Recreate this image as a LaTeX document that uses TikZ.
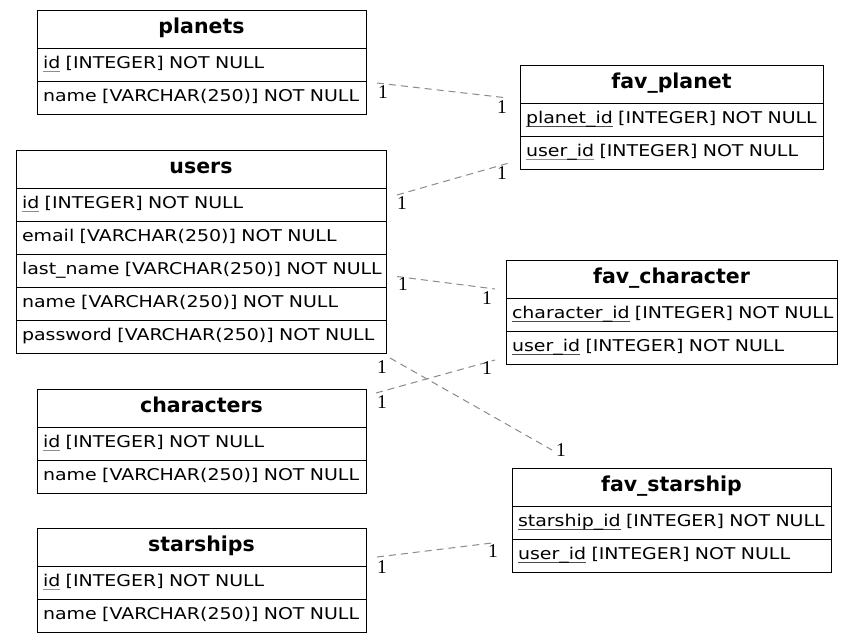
\documentclass[tikz,border=0pt]{standalone}
\usepackage{fontspec}
\setmainfont{DejaVu Sans}
\newfontfamily\rowfont[FakeStretch=1.17]{DejaVu Sans}
\newfontfamily\cardfont{Liberation Serif}
\usetikzlibrary{positioning}
\definecolor{keygray}{HTML}{8C8C8C}
\definecolor{keydark}{HTML}{4A4A4A}
\definecolor{relgray}{HTML}{8A8A8A}
\newcommand\keyname[2]{\setbox0\hbox{#2}\rlap{\color{#1}\rule[-3.2pt]{\wd0}{1.1pt}}\box0\relax}
\tikzset{
  tblhead/.style={draw,line width=1pt,outer sep=0pt,minimum width=#1,minimum height=38pt,inner sep=0pt,anchor=north west,
    font=\fontsize{20.5}{24}\selectfont\bfseries,text height=14pt,text depth=5pt},
  tblrow/.style={draw,line width=1pt,outer sep=0pt,text width=#1,minimum height=33pt,inner xsep=6pt,inner ysep=0pt,anchor=north west,
    align=left,font=\rowfont\fontsize{16.2}{19}\selectfont,text height=12pt,text depth=3.5pt,
    execute at begin node={\hbox\bgroup},execute at end node={\egroup}},
  rel/.style={draw=relgray,line width=1pt,dash pattern=on 7pt off 5pt},
  card/.style={font=\cardfont\fontsize{19.5}{22}\selectfont,inner sep=0pt}
}
\begin{document}
\begin{tikzpicture}[x=1pt,y=-1pt]
  \fill[white] (0,0) rectangle (853,643);
  % left column
  \node[tblhead=329pt] (planets) at (37,10) {planets};
  \node[tblrow=317pt,below right=0pt and 0pt of planets.south west] (planets-id) {\keyname{keygray}{id} [INTEGER] NOT NULL};
  \node[tblrow=317pt,below right=0pt and 0pt of planets-id.south west] (planets-name) {name [VARCHAR(250)] NOT NULL};

  \node[tblhead=370pt] (users) at (16,150) {users};
  \node[tblrow=358pt,below right=0pt and 0pt of users.south west] (users-id) {\keyname{keygray}{id} [INTEGER] NOT NULL};
  \node[tblrow=358pt,below right=0pt and 0pt of users-id.south west] (users-email) {email [VARCHAR(250)] NOT NULL};
  \node[tblrow=358pt,below right=0pt and 0pt of users-email.south west] (users-last) {last\_name [VARCHAR(250)] NOT NULL};
  \node[tblrow=358pt,below right=0pt and 0pt of users-last.south west] (users-name) {name [VARCHAR(250)] NOT NULL};
  \node[tblrow=358pt,below right=0pt and 0pt of users-name.south west] (users-pw) {password [VARCHAR(250)] NOT NULL};

  \node[tblhead=329pt] (characters) at (37,389) {characters};
  \node[tblrow=317pt,below right=0pt and 0pt of characters.south west] (characters-id) {\keyname{keygray}{id} [INTEGER] NOT NULL};
  \node[tblrow=317pt,below right=0pt and 0pt of characters-id.south west] (characters-name) {name [VARCHAR(250)] NOT NULL};

  \node[tblhead=329pt] (starships) at (37,528) {starships};
  \node[tblrow=317pt,below right=0pt and 0pt of starships.south west] (starships-id) {\keyname{keygray}{id} [INTEGER] NOT NULL};
  \node[tblrow=317pt,below right=0pt and 0pt of starships-id.south west] (starships-name) {name [VARCHAR(250)] NOT NULL};

  % right column
  \node[tblhead=303pt] (favplanet) at (520,65) {fav\_planet};
  \node[tblrow=291pt,below right=0pt and 0pt of favplanet.south west] (favplanet-planet) {\keyname{keydark}{planet\_id} [INTEGER] NOT NULL};
  \node[tblrow=291pt,below right=0pt and 0pt of favplanet-planet.south west] (favplanet-user) {\keyname{keygray}{user\_id} [INTEGER] NOT NULL};

  \node[tblhead=331pt] (favchar) at (506,260) {fav\_character};
  \node[tblrow=319pt,below right=0pt and 0pt of favchar.south west] (favchar-char) {\keyname{keydark}{character\_id} [INTEGER] NOT NULL};
  \node[tblrow=319pt,below right=0pt and 0pt of favchar-char.south west] (favchar-user) {\keyname{keydark}{user\_id} [INTEGER] NOT NULL};

  \node[tblhead=319pt] (favship) at (512,468) {fav\_starship};
  \node[tblrow=307pt,below right=0pt and 0pt of favship.south west] (favship-ship) {\keyname{keydark}{starship\_id} [INTEGER] NOT NULL};
  \node[tblrow=307pt,below right=0pt and 0pt of favship-ship.south west] (favship-user) {\keyname{keydark}{user\_id} [INTEGER] NOT NULL};

  % relations
  \draw[rel] ([shift={(11,2)}]planets-name.north east) -- node[card,at start,xshift=6pt,yshift=-9pt] (r1a) {1}
    node[card,at end,xshift=-6pt,yshift=-9pt] (r1b) {1} ([shift={(-12,-5)}]favplanet.south west);
  \draw[rel] ([shift={(11,7)}]users-id.north east) -- node[card,at start,xshift=5pt,yshift=-8pt] (r2a) {1}
    node[card,at end,xshift=-7pt,yshift=-10pt] (r2b) {1} ([shift={(-11,-6)}]favplanet-user.south west);
  \draw[rel] ([shift={(11,6)}]users-last.east) -- node[card,at start,xshift=6pt,yshift=-8pt] (r3a) {1}
    node[card,at end,xshift=-8pt,yshift=-9pt] (r3b) {1} ([shift={(-11,-9)}]favchar.south west);
  \draw[rel] ([shift={(4,5)}]users-pw.south east) -- node[card,at start,xshift=-8pt,yshift=-9pt] (r4a) {1}
    node[card,at end,xshift=9pt] (r4b) {1} ([shift={(40,-18)}]favship.north west);
  \draw[rel] ([shift={(10,4)}]characters.north east) -- node[card,at start,xshift=6pt,yshift=-9pt] (r5a) {1}
    node[card,at end,xshift=-8pt,yshift=-8pt] (r5b) {1} ([shift={(-11,-4)}]favchar-user.south west);
  \draw[rel] ([shift={(11,-9)}]starships.south east) -- node[card,at start,xshift=5pt,yshift=-10pt] (r6a) {1}
    node[card,at end,xshift=1pt,yshift=-8pt] (r6b) {1} ([shift={(-20,4)}]favship-ship.south west);
\end{tikzpicture}
\end{document}
